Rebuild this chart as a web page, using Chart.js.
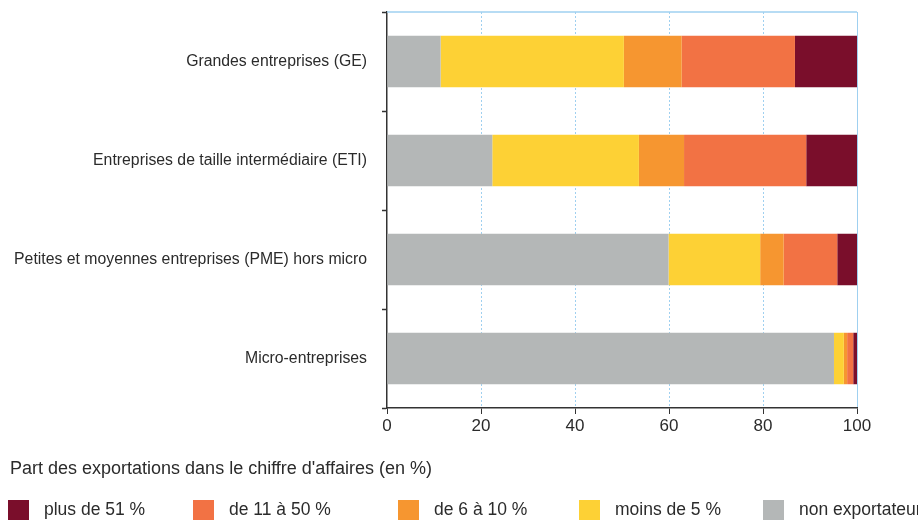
<!DOCTYPE html>
<html>
<head>
<meta charset="utf-8">
<script src="https://cdn.jsdelivr.net/npm/chart.js@4/dist/chart.umd.min.js"></script>
<style>
  html, body { margin: 0; padding: 0; background: #fff; }
  #wrap { position: relative; width: 918px; height: 520px; font-family: 'Liberation Sans', Arial, sans-serif; color: #2b2b2b; }
  canvas { position: absolute; left: 0; top: 0; }
  #legend-title { position: absolute; left: 10px; top: 458px; font-size: 18px; white-space: nowrap; }
  .leg { position: absolute; top: 499px; height: 21px; display: flex; align-items: center; font-size: 17.5px; white-space: nowrap; }
  .leg span.box { display: inline-block; width: 21px; height: 20px; margin-right: 15px; }
</style>
</head>
<body>
<div id="wrap">
  <canvas id="chart" width="918" height="520"></canvas>
  <div id="legend-title">Part des exportations dans le chiffre d'affaires (en %)</div>
  <div id="legend"></div>
</div>
<script>
const categories = [
  'Grandes entreprises (GE)',
  'Entreprises de taille intermédiaire (ETI)',
  'Petites et moyennes entreprises (PME) hors micro',
  'Micro-entreprises'
];

// part of firms (in %) by export share of turnover
const nonExportateur = [11.4, 22.4, 59.9, 95.1];
const moinsDe5 = [39.0, 31.2, 19.5, 2.1];
const de6a10 = [12.3, 9.6, 5.0, 0.7];
const de11a50 = [24.1, 26.0, 11.4, 1.3];
const plusDe51 = [13.2, 10.8, 4.2, 0.8];

const xTicks = [0, 20, 40, 60, 80, 100];

const series = [
  { label: 'non exportateur', data: nonExportateur, color: '#b4b7b7' },
  { label: 'moins de 5 %', data: moinsDe5, color: '#fdd135' },
  { label: 'de 6 à 10 %', data: de6a10, color: '#f69630' },
  { label: 'de 11 à 50 %', data: de11a50, color: '#f27244' },
  { label: 'plus de 51 %', data: plusDe51, color: '#7a0e2b' }
];

const fontFamily = "'Liberation Sans', Arial, sans-serif";
const gridBlue = '#9fd0f0';
const axisDark = '#333333';

// light blue line along the top of the plot area
const topFrame = {
  id: 'topFrame',
  afterDatasetsDraw(chart) {
    const { ctx, chartArea } = chart;
    ctx.save();
    ctx.strokeStyle = gridBlue;
    ctx.lineWidth = 1.5;
    ctx.beginPath();
    ctx.moveTo(chartArea.left, chartArea.top);
    ctx.lineTo(chartArea.right, chartArea.top);
    ctx.stroke();
    ctx.restore();
  }
};

const ctx = document.getElementById('chart').getContext('2d');

new Chart(ctx, {
  type: 'bar',
  data: {
    labels: categories,
    datasets: series.map(s => ({
      label: s.label,
      data: s.data,
      backgroundColor: s.color,
      borderWidth: 0,
      barPercentage: 0.52,
      categoryPercentage: 1
    }))
  },
  options: {
    indexAxis: 'y',
    responsive: false,
    animation: false,
    layout: { padding: { top: 12, right: 61, bottom: 0, left: 0 } },
    plugins: {
      legend: { display: false },
      tooltip: { enabled: false }
    },
    scales: {
      x: {
        stacked: true,
        min: 0,
        max: 100,
        afterBuildTicks: scale => { scale.ticks = xTicks.map(v => ({ value: v })); },
        afterFit: scale => { scale.height = 112; },
        grid: {
          color: c => (c.tick && c.tick.value === 0) ? 'rgba(0,0,0,0)' : gridBlue,
          tickColor: axisDark,
          tickLength: 6,
          lineWidth: 1
        },
        border: {
          color: axisDark,
          width: 1.5,
          dash: c => (c.tick && c.tick.value === 100) ? [] : [2, 2]
        },
        ticks: {
          color: '#2b2b2b',
          padding: 2,
          font: { family: fontFamily, size: 17 }
        }
      },
      y: {
        stacked: true,
        afterFit: scale => {
          scale.width = 387;
          scale.paddingTop = 0;
          scale.paddingBottom = 0;
        },
        grid: {
          offset: true,
          drawOnChartArea: false,
          tickColor: axisDark,
          tickLength: 5,
          tickWidth: 1.5
        },
        border: { color: axisDark, width: 1.5 },
        ticks: {
          color: '#2b2b2b',
          padding: 15,
          font: { family: fontFamily, size: 15.8 }
        }
      }
    }
  },
  plugins: [topFrame]
});

// legend, built from the same series (reverse order, as in the source)
const legendX = [8, 193, 398, 579, 763];
const legend = document.getElementById('legend');
series.slice().reverse().forEach((s, i) => {
  const item = document.createElement('div');
  item.className = 'leg';
  item.style.left = legendX[i] + 'px';
  item.innerHTML = '<span class="box" style="background:' + s.color + '"></span>' + s.label;
  legend.appendChild(item);
});
</script>
</body>
</html>
